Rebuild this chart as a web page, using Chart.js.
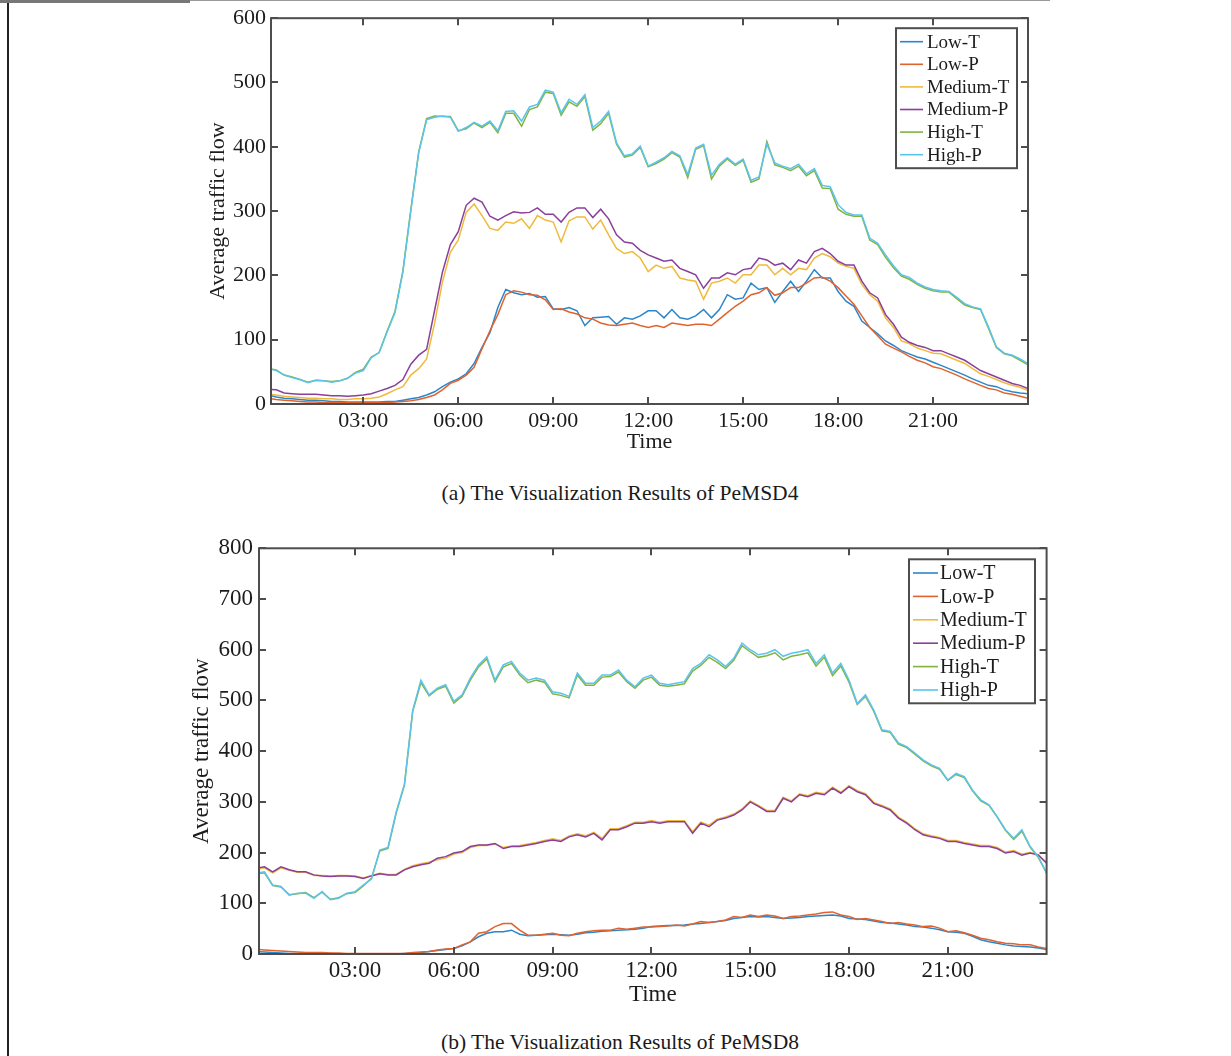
<!DOCTYPE html>
<html><head><meta charset="utf-8">
<script src="https://cdn.jsdelivr.net/npm/chart.js@4.4.1/dist/chart.umd.min.js"></script>
<style>
html,body{margin:0;padding:0;background:#fff;}
body{width:1231px;height:1056px;position:relative;overflow:hidden;font-family:"Liberation Serif","Times New Roman",serif;}
canvas{position:absolute;}
.cap{position:absolute;left:370px;width:500px;text-align:center;font-size:21.5px;line-height:25px;color:#1a1a1a;white-space:nowrap;}
</style></head><body>
<div style="position:absolute;left:7px;top:0;width:2px;height:1056px;background:#222"></div>
<div style="position:absolute;left:0;top:0;width:190px;height:3px;background:#777"></div>
<div style="position:absolute;left:190px;top:0;width:860px;height:1px;background:#999"></div>
<canvas id="c1" style="left:180px;top:0" width="880" height="470"></canvas>
<div class="cap" style="top:481px">(a) The Visualization Results of PeMSD4</div>
<canvas id="c2" style="left:170px;top:520px" width="900" height="500"></canvas>
<div class="cap" style="top:1030px">(b) The Visualization Results of PeMSD8</div>
<script>
// ---------- data (15-minute samples, 00:00 .. 24:00) ----------
const seriesNames = ['Low-T', 'Low-P', 'Medium-T', 'Medium-P', 'High-T', 'High-P'];
const xTickHours = [3, 6, 9, 12, 15, 18, 21];
const xTickLabels = ['03:00', '06:00', '09:00', '12:00', '15:00', '18:00', '21:00'];
const sampleHours = 0.25;

// PeMSD4
const pems4LowT = [14,11,9,8,7,6,6,5,4,4,3,3,
  3,3,3,4,4,6,8,10,14,19,27,34,
  39,47,63,88,111,150,178,173,170,172,166,167,
  148,147,150,145,122,134,135,136,124,134,132,137,
  145,145,134,147,134,132,137,147,134,147,170,163,
  165,188,178,181,158,175,191,175,191,209,196,196,
  175,160,152,129,119,109,98,91,83,78,73,70,
  65,60,55,50,45,39,34,29,27,22,19,17,
  16];
const pems4LowP = [9,7,6,5,4,3,3,2,2,2,2,2,
  2,2,2,2,3,4,5,7,10,14,22,32,
  37,45,57,86,114,139,170,176,174,170,169,162,
  147,148,143,140,134,132,126,123,122,124,126,122,
  119,122,119,126,124,122,124,124,122,132,142,152,
  160,170,173,181,169,173,181,181,188,196,197,191,
  181,168,155,137,119,106,93,87,81,74,68,64,
  58,55,50,45,39,34,29,24,22,17,15,12,
  9];
const pems4MedT = [15,14,12,11,10,9,9,8,8,7,7,8,
  8,9,11,16,22,27,45,55,70,125,190,236,
  255,298,311,293,273,270,283,281,288,273,293,286,
  283,252,285,291,291,272,286,263,242,234,237,227,
  206,216,211,214,196,193,191,163,188,191,196,188,
  201,201,216,216,201,211,201,211,209,227,234,229,
  219,214,211,186,170,160,134,119,98,94,87,83,
  79,78,73,68,63,55,47,43,38,33,29,26,
  21];
const pems4MedP = [23,22,17,16,15,15,15,14,13,13,12,13,
  14,16,20,24,29,38,62,76,85,145,205,248,
  268,309,320,314,292,286,293,299,297,298,305,295,
  295,283,298,305,305,290,303,288,263,252,250,239,
  232,227,222,224,211,206,201,180,196,196,204,201,
  209,211,227,224,216,219,209,224,219,237,242,234,
  222,216,216,191,173,165,139,124,104,96,91,88,
  83,83,78,73,68,60,52,47,42,37,32,29,
  24];
const pems4HighT = [55,53,45,42,38,34,37,36,35,36,40,49,
  54,73,80,113,144,207,302,392,444,448,447,447,
  425,428,437,430,438,422,452,452,432,458,462,485,
  483,449,470,463,478,426,436,452,404,384,387,399,
  369,374,381,391,384,352,396,402,350,370,381,371,
  379,345,350,408,372,368,363,370,355,363,336,335,
  303,295,292,292,255,248,228,212,199,194,186,180,
  176,174,174,164,154,150,147,118,88,78,75,68,
  61];
const pems4HighP = [55,52,45,41,38,33,37,36,34,36,40,48,
  52,72,80,112,142,205,300,391,442,446,448,446,
  424,430,438,432,440,425,455,456,440,462,466,488,
  485,453,474,466,481,430,440,455,406,386,389,401,
  370,376,383,393,386,357,398,404,356,373,383,373,
  381,348,353,404,375,370,366,373,358,366,340,338,
  310,298,294,294,258,250,232,215,201,197,188,182,
  178,176,175,166,156,151,148,120,89,79,76,70,
  63];

// PeMSD8
const pems8LowT = [5,4,3,2,1,1,1,1,1,1,0,0,
  0,0,0,0,0,0,1,2,3,5,7,9,
  11,16,24,34,41,44,44,47,39,36,37,38,
  39,38,37,39,42,43,45,46,47,48,49,51,
  54,55,56,56,57,59,60,62,64,66,70,72,
  74,73,74,72,70,71,72,74,75,76,77,75,
  70,69,68,65,62,61,59,57,54,53,51,48,
  44,43,41,35,28,24,21,18,16,15,14,12,
  9];
const pems8LowP = [9,8,7,6,5,4,3,3,3,2,2,1,
  1,1,1,1,1,1,1,3,4,5,8,10,
  11,18,24,41,44,54,60,60,47,37,37,39,
  41,37,36,41,44,46,47,47,51,49,51,53,
  53,54,55,57,55,59,64,62,64,67,74,72,
  77,74,77,75,70,74,75,77,79,82,83,77,
  74,68,70,67,64,60,62,59,57,54,55,51,
  44,46,42,37,31,28,24,21,20,18,18,14,
  11];
const pems8MedT = [167,170,160,170,165,161,161,155,155,154,155,155,
  154,150,155,159,157,157,167,174,178,181,186,189,
  197,200,210,214,214,217,210,213,214,217,220,224,
  227,224,233,237,233,240,228,247,247,253,260,260,
  263,260,263,263,263,241,260,254,266,270,276,286,
  302,293,283,283,309,302,316,312,319,316,329,319,
  332,322,316,299,293,286,270,260,247,237,233,230,
  224,224,220,217,214,214,210,201,204,197,200,196,
  180];
const pems8MedP = [169,172,162,172,166,162,162,156,154,153,154,154,
  153,149,154,158,156,156,166,172,176,179,189,192,
  199,202,212,215,215,218,208,212,212,215,218,222,
  225,222,231,235,231,238,225,245,245,251,258,258,
  261,258,261,261,261,238,258,251,264,268,274,284,
  300,291,281,281,307,300,314,310,317,314,327,317,
  330,320,314,297,291,284,268,258,245,235,231,228,
  222,222,218,215,212,212,208,199,202,195,199,195,
  179];
const pems8HighT = [158,160,135,132,117,119,121,111,122,108,111,119,
  121,134,150,203,208,278,333,478,535,509,522,528,
  495,508,540,566,582,537,566,573,550,535,540,536,
  513,510,505,550,530,530,546,547,556,537,524,540,
  546,530,528,530,533,558,569,585,575,563,579,608,
  596,585,588,594,580,587,590,594,568,585,549,568,
  536,492,508,479,440,437,414,407,394,381,371,364,
  342,354,348,322,302,293,270,244,226,242,211,190,
  160];
const pems8HighP = [159,162,136,133,116,120,120,110,123,107,110,120,
  123,136,148,205,210,280,335,480,540,511,524,531,
  498,511,544,570,586,540,570,577,554,540,544,540,
  517,514,508,554,534,534,550,550,560,540,527,544,
  550,534,531,534,537,563,573,590,580,567,583,613,
  600,590,593,600,587,593,596,600,573,590,554,573,
  540,494,511,481,442,439,416,409,396,383,373,366,
  343,356,350,323,304,294,271,245,228,245,212,192,
  159];

// ---------- styling ----------
const seriesColors = ['#2b86c9', '#e0622f', '#efba3c', '#8a3f9b', '#80b33f', '#5bc4ee'];
const FONT = '"Liberation Serif", "Times New Roman", serif';
const TEXT = '#1c1c1c';
const AXIS = '#4d4d4d';

const framePlugin = {
  id: 'matlabFrame',
  afterDatasetsDraw(chart, args, o) {
    const { ctx, chartArea: a, scales: { x, y } } = chart;
    ctx.save();
    ctx.strokeStyle = AXIS;
    ctx.lineWidth = 2;
    ctx.beginPath();
    x.ticks.forEach(t => {
      const px = Math.round(x.getPixelForValue(t.value));
      ctx.moveTo(px, a.bottom); ctx.lineTo(px, a.bottom - o.tick);
      ctx.moveTo(px, a.top); ctx.lineTo(px, a.top + o.tick);
    });
    y.ticks.forEach(t => {
      const py = Math.round(y.getPixelForValue(t.value));
      ctx.moveTo(a.left, py); ctx.lineTo(a.left + o.tick, py);
      ctx.moveTo(a.right, py); ctx.lineTo(a.right - o.tick, py);
    });
    ctx.stroke();
    ctx.strokeRect(a.left, a.top, a.right - a.left, a.bottom - a.top);
    ctx.restore();
  }
};

const boxLegendPlugin = {
  id: 'boxLegend',
  afterDraw(chart, args, o) {
    const { ctx, chartArea: a } = chart;
    const left = a.right - o.rightInset - o.width;
    const top = a.top + o.topInset;
    ctx.save();
    ctx.fillStyle = '#fff';
    ctx.fillRect(left, top, o.width, o.height);
    ctx.strokeStyle = AXIS;
    ctx.lineWidth = 2;
    ctx.strokeRect(left, top, o.width, o.height);
    ctx.font = o.fontSize + 'px ' + FONT;
    ctx.textBaseline = 'middle';
    ctx.textAlign = 'left';
    chart.data.datasets.forEach((ds, i) => {
      const cy = top + o.firstRow + i * o.rowGap;
      ctx.strokeStyle = ds.borderColor;
      ctx.lineWidth = 1.6;
      ctx.beginPath();
      ctx.moveTo(left + o.lineStart, cy);
      ctx.lineTo(left + o.lineEnd, cy);
      ctx.stroke();
      ctx.fillStyle = TEXT;
      ctx.fillText(ds.label, left + o.textX, cy + 1);
    });
    ctx.restore();
  }
};

function makeChart(id, series, cfg) {
  const datasets = series.map((vals, i) => ({
    label: seriesNames[i],
    data: vals.map((v, k) => ({ x: k * sampleHours, y: v })),
    borderColor: seriesColors[i],
    borderWidth: 1.5,
    pointRadius: 0,
    tension: 0,
    order: series.length - 1 - i
  }));
  const tickFont = { family: FONT, size: cfg.fontSize };
  return new Chart(document.getElementById(id), {
    type: 'line',
    data: { datasets },
    plugins: [framePlugin, boxLegendPlugin],
    options: {
      responsive: false,
      animation: false,
      devicePixelRatio: 1,
      layout: { padding: cfg.padding },
      plugins: {
        legend: { display: false },
        tooltip: { enabled: false },
        matlabFrame: { tick: 7 },
        boxLegend: cfg.legend
      },
      scales: {
        x: {
          type: 'linear',
          min: 1 / 12,
          max: 24,
          grid: { display: false, drawTicks: false },
          border: { display: false },
          afterBuildTicks: s => { s.ticks = xTickHours.map(v => ({ value: v })); },
          afterFit: s => { s.height = cfg.xHeight; },
          ticks: {
            autoSkip: false, maxRotation: 0, padding: cfg.xTickPad,
            color: TEXT, font: tickFont,
            callback: v => xTickLabels[xTickHours.indexOf(v)]
          },
          title: {
            display: true, text: 'Time', color: TEXT, font: tickFont,
            padding: { top: 0, bottom: cfg.xTitlePad }
          }
        },
        y: {
          min: 0,
          max: cfg.yMax,
          grid: { display: false, drawTicks: false },
          border: { display: false },
          afterFit: s => { s.width = cfg.yWidth; },
          ticks: { stepSize: 100, padding: cfg.yTickPad, color: TEXT, font: tickFont },
          title: {
            display: true, text: 'Average traffic flow', color: TEXT, font: tickFont,
            padding: { top: cfg.yTitlePad, bottom: 0 }
          }
        }
      }
    }
  });
}

makeChart('c1', [pems4LowT, pems4LowP, pems4MedT, pems4MedP, pems4HighT, pems4HighP], {
  yMax: 600, fontSize: 22,
  padding: { left: 0, right: 32, top: 14, bottom: 10 },
  xHeight: 56, yWidth: 91, xTickPad: 4, xTitlePad: 4.5, yTickPad: 5, yTitlePad: 24.8,
  legend: { rightInset: 11, topInset: 10, width: 121, height: 140, firstRow: 13.5, rowGap: 22.6,
            lineStart: 4, lineEnd: 27, textX: 31, fontSize: 19 }
});

makeChart('c2', [pems8LowT, pems8LowP, pems8MedT, pems8MedP, pems8HighT, pems8HighP], {
  yMax: 800, fontSize: 23,
  padding: { left: 0, right: 23.4, top: 28.3, bottom: 10 },
  xHeight: 56, yWidth: 89, xTickPad: 3, xTitlePad: 1.7, yTickPad: 6, yTitlePad: 18.2,
  legend: { rightInset: 11.6, topInset: 11, width: 126, height: 144, firstRow: 13.7, rowGap: 23.4,
            lineStart: 4, lineEnd: 29, textX: 31, fontSize: 20 }
});
</script>
</body></html>
